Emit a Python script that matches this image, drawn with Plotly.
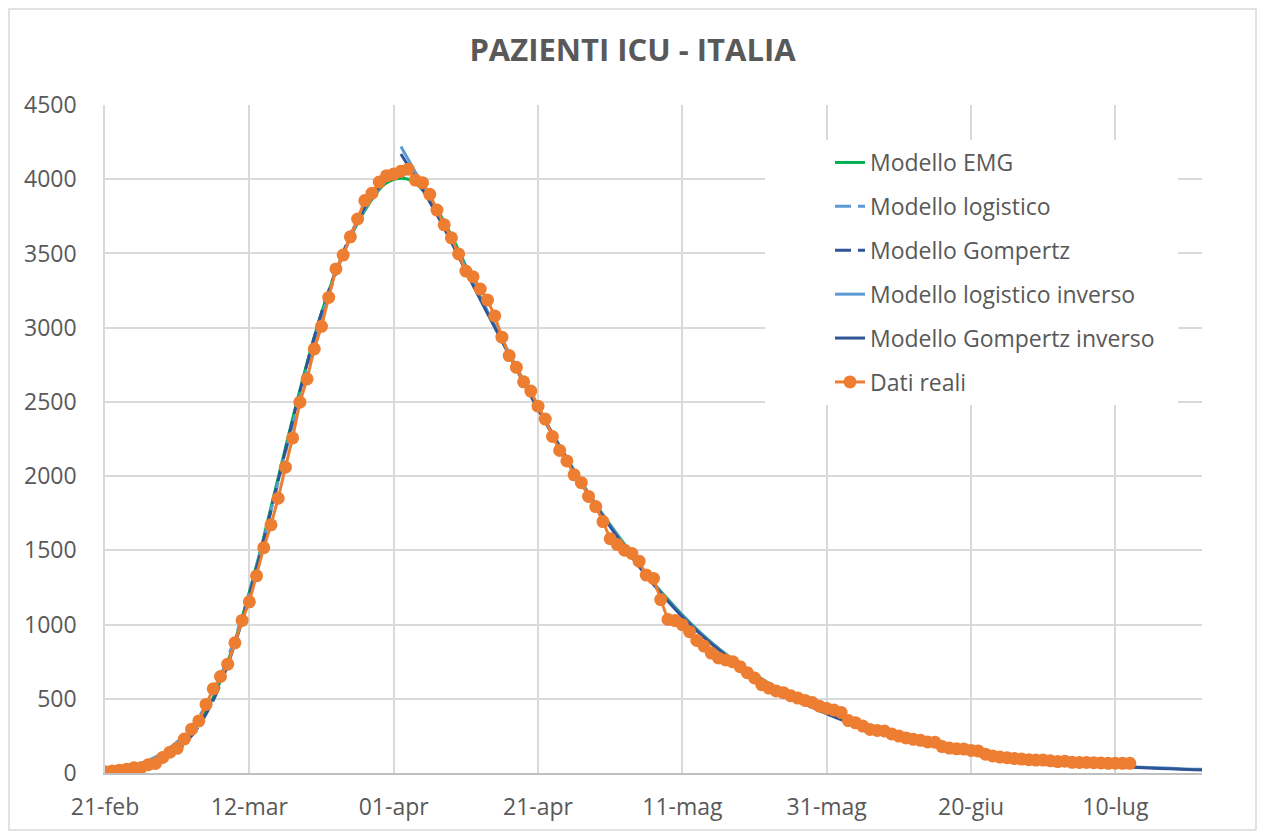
import plotly.graph_objects as go
import pandas as pd

# ---------------- data ----------------
real_start = "2020-02-21"
real_values = [
    8, 14, 19, 26, 35, 36, 56, 64, 105,
    140, 166, 229, 295, 351, 462, 567, 650, 733, 877, 1028, 1153, 1328, 1518, 1672, 1851,
    2060, 2257, 2498, 2655, 2857, 3009, 3204, 3396, 3489, 3612, 3732, 3856, 3906, 3981, 4023,
    4035, 4053, 4068, 3994, 3977, 3898, 3792, 3693, 3605, 3497, 3381, 3343, 3260, 3186, 3079,
    2936, 2812, 2733, 2635, 2573, 2471, 2384, 2267, 2173, 2102, 2009, 1956, 1863, 1795, 1694,
    1578, 1539, 1501, 1479, 1427, 1333, 1311, 1168, 1034, 1027, 999, 952, 893, 855, 808, 775,
    762, 749, 716, 676, 640, 595, 572, 553, 541, 521, 505, 489, 475, 450, 435,
    424, 408, 353, 338, 316, 293, 287, 283, 263, 249, 236, 227, 220, 209, 207, 178, 168, 163,
    161, 152, 148, 127, 115, 107, 103, 97, 94, 90, 87, 87,
    82, 77, 79, 72, 71, 71, 69, 68, 65, 66, 65, 65,
]
real_dates = pd.date_range(real_start, periods=len(real_values), freq="D")

emg_dates = pd.date_range("2020-02-21", "2020-07-11", freq="3D")
emg_values = [8, 22, 55, 125, 265, 510, 890, 1400, 1990, 2580, 3100, 3500, 3790, 3975,
              4000, 3870, 3620, 3310, 3010, 2730, 2460, 2200, 1960, 1740,
              1540, 1340, 1170, 1015, 880, 765, 665, 575, 497, 428,
              368, 316, 272, 233, 199, 170, 145, 123, 105, 89,
              76, 64, 54, 46]

rise_dates = ["2020-02-21", "2020-02-24", "2020-02-27", "2020-03-01", "2020-03-04",
              "2020-03-07", "2020-03-10", "2020-03-13", "2020-03-16", "2020-03-19",
              "2020-03-22", "2020-03-25", "2020-03-28", "2020-03-31", "2020-04-02"]
logistic_values = [18, 40, 85, 170, 310, 550, 910, 1390, 1960, 2540, 3070, 3490, 3800, 3990, 4040]
gompertz_values = [4, 15, 45, 115, 250, 490, 870, 1380, 1970, 2570, 3100, 3510, 3810, 4000, 4060]

fall_dates = pd.date_range("2020-04-02", "2020-07-22", freq="3D")
logistic_inv_values = [4220, 3960, 3690, 3400, 3110, 2830, 2550, 2290, 2040, 1810,
                       1600, 1400, 1220, 1060, 920, 800, 695, 600, 520, 450,
                       385, 330, 283, 242, 207, 177, 151, 128, 109, 93,
                       79, 67, 57, 48, 41, 35, 29, 25]
gompertz_inv_values = [4170, 3930, 3670, 3380, 3095, 2815, 2540, 2280, 2030, 1800,
                       1590, 1390, 1212, 1052, 913, 793, 689, 594, 513, 442,
                       378, 323, 276, 235, 200, 170, 144, 122, 103, 87,
                       73, 62, 52, 44, 37, 31, 26, 21]

tick_dates = ["2020-02-21", "2020-03-12", "2020-04-01", "2020-04-21",
              "2020-05-11", "2020-05-31", "2020-06-20", "2020-07-10"]
tick_labels = ["21-feb", "12-mar", "01-apr", "21-apr", "11-mag", "31-mag", "20-giu", "10-lug"]
y_ticks = list(range(0, 4501, 500))

# ---------------- figure ----------------
GREEN = "#00B050"
LBLUE = "#5B9BD5"
DBLUE = "#2F5597"
ORANGE = "#ED7D31"
TXT = "#595959"
GRID = "#D9D9D9"

fig = go.Figure()
fig.add_trace(go.Scatter(x=emg_dates[:len(emg_values)], y=emg_values, mode="lines", name="Modello EMG",
                         line=dict(color=GREEN, width=3, shape="spline"), legendgroup="a"))
fig.add_trace(go.Scatter(x=rise_dates, y=logistic_values, mode="lines", name="Modello logistico",
                         line=dict(color=LBLUE, width=3, dash="16px,7px", shape="spline"), legendgroup="b"))
fig.add_trace(go.Scatter(x=rise_dates, y=gompertz_values, mode="lines", name="Modello Gompertz",
                         line=dict(color=DBLUE, width=3, dash="16px,7px", shape="spline"), legendgroup="c"))
fig.add_trace(go.Scatter(x=fall_dates[:len(logistic_inv_values)], y=logistic_inv_values, mode="lines",
                         name="Modello logistico inverso",
                         line=dict(color=LBLUE, width=3, shape="spline"), legendgroup="d"))
fig.add_trace(go.Scatter(x=fall_dates[:len(gompertz_inv_values)], y=gompertz_inv_values, mode="lines",
                         name="Modello Gompertz inverso",
                         line=dict(color=DBLUE, width=3, shape="spline"), legendgroup="e"))
fig.add_trace(go.Scatter(x=real_dates, y=real_values, mode="lines+markers", name="Dati reali",
                         line=dict(color=ORANGE, width=3),
                         marker=dict(color=ORANGE, size=13), legendgroup="f"))

# page offset of the figure inside the browser (default body margin)
OFF = 8
W, H = 1265 - 2 * OFF, 839 - 2 * OFF
PL, PT, PR, PB = 105, 105, 1202, 773          # plot area in page pixels
L, T = PL - OFF, PT - OFF
R, B = W - (PR - OFF), H - (PB - OFF)


def px_x(p):
    return (p - PL) / (PR - PL)


def px_y(p):
    return (PB - p) / (PB - PT)


fig.update_layout(
    width=W, height=H,
    margin=dict(l=L, r=R, t=T, b=B, autoexpand=False),
    paper_bgcolor="white", plot_bgcolor="white",
    font=dict(family="Open Sans", color=TXT, size=23),
    title=dict(text="<b>PAZIENTI ICU - ITALIA</b>", x=0.5, xref="container", xanchor="center",
               y=1 - (50 - OFF) / H, yref="container", yanchor="middle",
               font=dict(family="Open Sans", size=31, color=TXT)),
    showlegend=True,
    legend=dict(x=px_x(830), y=px_y(141), xanchor="left", yanchor="top",
                bgcolor="white", borderwidth=0, tracegroupgap=11,
                font=dict(family="Open Sans", size=23, color=TXT)),
    xaxis=dict(type="date", range=["2020-02-21", "2020-07-22"],
               tickvals=tick_dates, ticktext=tick_labels,
               showgrid=True, gridcolor=GRID, gridwidth=1.5,
               showline=True, linecolor="#BFBFBF", linewidth=2,
               zeroline=False, ticks="", ticklabelstandoff=12,
               tickfont=dict(size=23, color=TXT)),
    yaxis=dict(range=[0, 4500], tickvals=y_ticks,
               showgrid=True, gridcolor=GRID, gridwidth=1.5,
               showline=True, linecolor=GRID, linewidth=1.5,
               zeroline=False, ticks="", ticklabelstandoff=22,
               tickfont=dict(size=23, color=TXT)),
    shapes=[
        dict(type="rect", xref="paper", yref="paper",
             x0=px_x(765), x1=px_x(1178), y0=px_y(405), y1=px_y(140),
             fillcolor="white", line=dict(width=0), layer="above"),
        dict(type="rect", xref="paper", yref="paper",
             x0=px_x(OFF + 1), x1=px_x(1265 - OFF - 1), y0=px_y(839 - OFF - 1), y1=px_y(OFF + 1),
             fillcolor="rgba(0,0,0,0)", line=dict(color=GRID, width=1.5), layer="above"),
    ],
)

fig.write_html("out.html")
